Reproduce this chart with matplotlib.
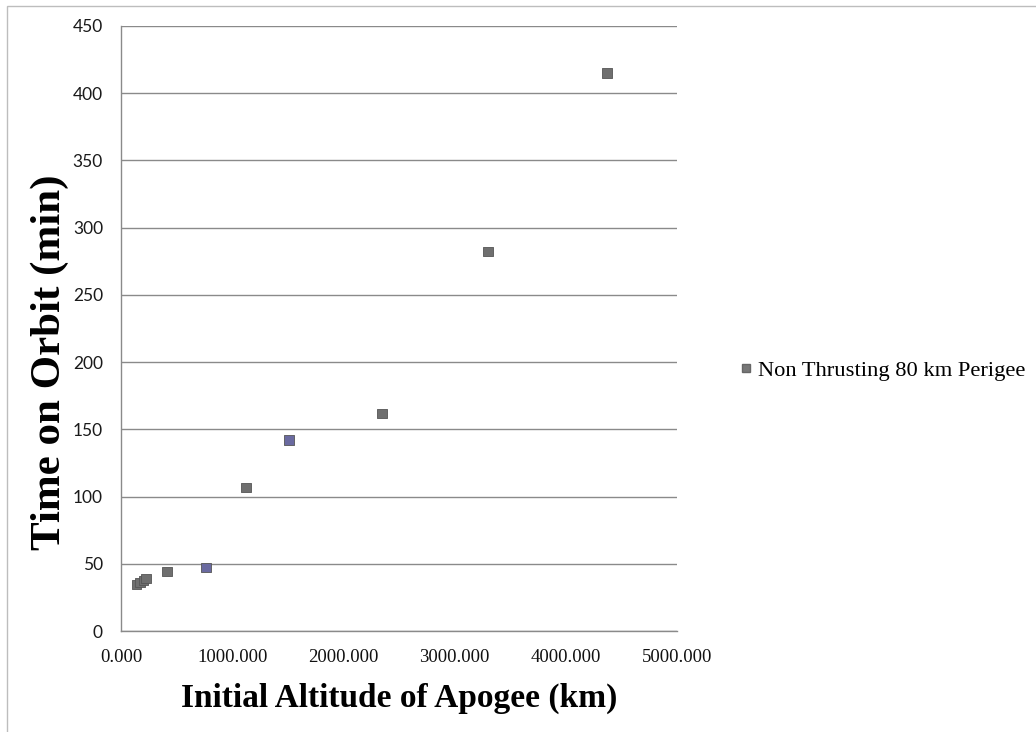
import matplotlib.pyplot as plt
from matplotlib.patches import Rectangle
from matplotlib.lines import Line2D

# apogee altitude (km) vs. time spent on orbit (min)
apogee_km = [140, 170, 200, 225, 414, 764, 1124, 1511, 2347, 3300, 4371]
time_min = [34.5, 36, 37.5, 39, 44, 47, 107, 142, 162, 282, 415]
series_label = "Non Thrusting 80 km Perigee"

x_ticks = [0, 1000, 2000, 3000, 4000, 5000]
y_ticks = [0, 50, 100, 150, 200, 250, 300, 350, 400, 450]

GREY = "#6f6f6f"
BLUE = "#6a6aa0"
point_colors = [GREY, GREY, GREY, GREY, GREY, BLUE, GREY, BLUE, GREY, GREY, GREY]


def main():
    fig = plt.figure(figsize=(10.36, 7.32), dpi=100)
    ax = fig.add_axes([121 / 1036, 101 / 732, 556 / 1036, 605 / 732])

    ax.scatter(apogee_km, time_min, s=44, marker="s", c=point_colors,
               edgecolors="#555555", linewidths=0.6, zorder=3)

    ax.set_xlim(0, 5000)
    ax.set_ylim(0, 450)
    ax.set_xticks(x_ticks)
    ax.set_xticklabels([f"{v:.3f}" for v in x_ticks],
                       family="Liberation Serif", fontsize=13.5, color="#111111")
    ax.set_yticks(y_ticks)
    ax.set_yticklabels([str(v) for v in y_ticks],
                       family="Lato", fontsize=12.5, color="#1a1a1a")
    ax.tick_params(axis="both", length=0)
    ax.tick_params(axis="y", pad=13)
    ax.tick_params(axis="x", pad=13)

    ax.grid(axis="y", color="#8a8a8a", linewidth=1.0)
    ax.set_axisbelow(True)
    for side in ("top", "right"):
        ax.spines[side].set_visible(False)
    for side in ("left", "bottom"):
        ax.spines[side].set_color("#8a8a8a")
        ax.spines[side].set_linewidth(1.0)

    ax.set_xlabel("Initial Altitude of Apogee (km)", family="Liberation Serif",
                  fontsize=24, fontweight="bold", labelpad=12)
    ax.set_ylabel("Time on Orbit (min)", family="Liberation Serif",
                  fontsize=31, fontweight="bold")
    ax.yaxis.set_label_coords(-0.094, 0.445)

    handle = Line2D([], [], linestyle="none", marker="s", markersize=6,
                    markerfacecolor="#777777", markeredgecolor="#666666")
    fig.legend([handle], [series_label], loc="center left",
               bbox_to_anchor=(719 / 1036, 1 - 371 / 732), frameon=False,
               handlelength=0.6, handletextpad=0.25,
               prop={"family": "Liberation Serif", "size": 16.2})

    # thin outer frame around the chart area
    fig.patches.append(Rectangle((7 / 1036, -0.01), 1.0, 1 - 6 / 732 + 0.01,
                                 transform=fig.transFigure, fill=False,
                                 edgecolor="#bdbdbd", linewidth=1.0))

    fig.savefig("out.png", dpi=100)


if __name__ == '__main__':
    main()
